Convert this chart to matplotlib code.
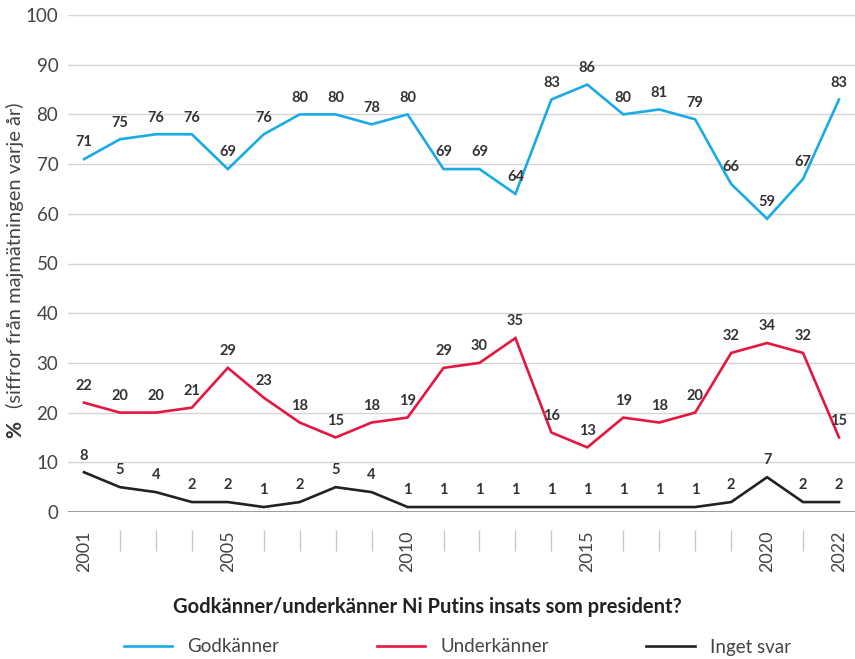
import matplotlib.pyplot as plt
import numpy as np

plt.rcParams['font.family'] = ['Lato', 'DejaVu Sans']

years = list(range(2001, 2023))
godkanner = [71, 75, 76, 76, 69, 76, 80, 80, 78, 80, 69, 69, 64, 83, 86, 80, 81, 79, 66, 59, 67, 83]
underkanner = [22, 20, 20, 21, 29, 23, 18, 15, 18, 19, 29, 30, 35, 16, 13, 19, 18, 20, 32, 34, 32, 15]
inget_svar = [8, 5, 4, 2, 2, 1, 2, 5, 4, 1, 1, 1, 1, 1, 1, 1, 1, 1, 2, 7, 2, 2]
labeled_years = [2001, 2005, 2010, 2015, 2020, 2022]

serier = [
    ("Godkänner", godkanner, '#1aabe6'),
    ("Underkänner", underkanner, '#e5173f'),
    ("Inget svar", inget_svar, '#222222'),
]

fig = plt.figure(figsize=(8.55, 6.59), dpi=100)
ax = fig.add_axes([68 / 855, 147 / 659, 787 / 855, 497 / 659])

for namn, varden, farg in serier:
    ax.plot(years, varden, color=farg, linewidth=1.9, label=namn,
            clip_on=False, zorder=3, solid_joinstyle='miter')
    for x, v in zip(years, varden):
        ax.annotate(str(v), (x, v), xytext=(0, 7), textcoords='offset points',
                    ha='center', va='bottom', fontsize=10.5, fontweight='bold',
                    color='#333333')

ax.set_xlim(2000.555, 2022.445)
ax.set_ylim(0, 100)
ax.set_yticks(range(0, 101, 10))
ax.grid(True, axis='y', color='#d4d4d4', linewidth=1)
ax.axhline(0, color='#8c8c8c', linewidth=1.2, zorder=2)
ax.set_axisbelow(True)
for s in ax.spines.values():
    s.set_visible(False)
ax.tick_params(axis='y', length=0, labelsize=13.5, labelcolor='#444444', pad=7)

ax.set_xticks(labeled_years)
ax.set_xticklabels([str(y) for y in labeled_years], rotation=90, va='top')
ax.tick_params(axis='x', length=0, labelsize=13, labelcolor='#444444', pad=13)

# små streck för år utan etikett
ovriga = [y for y in years if y not in labeled_years]
ax.vlines(ovriga, -3.6, -7.9, color='#c8c8c8', linewidth=1, clip_on=False)

fig.text(15 / 855, 1 - 430 / 659, "%", rotation=90, ha='center', va='center',
         fontsize=15, fontweight='bold', color='#333333')
fig.text(15 / 855, 1 - 255 / 659, "(siffror från majmätningen varje år)", rotation=90,
         ha='center', va='center', fontsize=14.5, color='#444444')

fig.text(0.5, 1 - 607 / 659, "Godkänner/underkänner Ni Putins insats som president?",
         ha='center', va='center', fontsize=14.5, fontweight='bold', color='#222222')

fig.legend(loc='center', bbox_to_anchor=(0.535, 1 - 647 / 659), ncol=3, frameon=False,
           fontsize=13.5, handlelength=2.6, handletextpad=0.8, columnspacing=5.2,
           labelcolor='#444444')

fig.savefig('out.png', dpi=100)
